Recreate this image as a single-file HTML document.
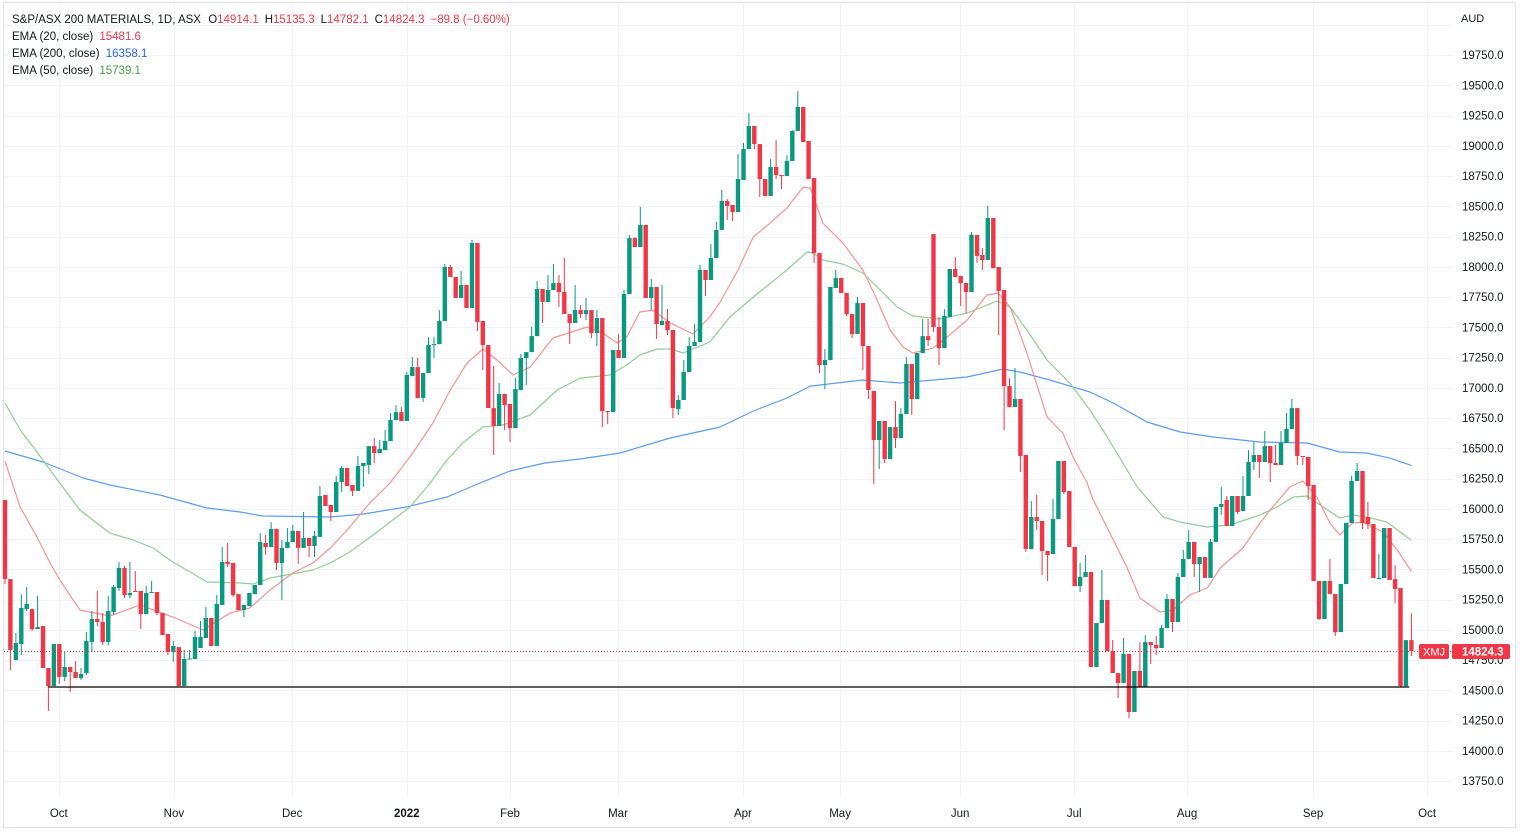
<!DOCTYPE html>
<html><head><meta charset="utf-8">
<style>
html,body{margin:0;padding:0;background:#fff;}
body{width:1520px;height:832px;overflow:hidden;font-family:"Liberation Sans",sans-serif;}
svg text{font-family:"Liberation Sans",sans-serif;}
</style></head>
<body>
<svg id="chart" width="1520" height="832" xmlns="http://www.w3.org/2000/svg">
<rect x="3.5" y="2.5" width="1512" height="825" fill="#fff" stroke="#e0e3eb"/>
<g id="grid"></g>
<g id="ema"></g>
<g id="candles"></g>
<g id="overlay"></g>
<g id="yaxis"></g>
<g id="xaxis"></g>
<g font-size="11.5" fill="#131722">
<text x="12" y="23">S&amp;P/ASX 200 MATERIALS, 1D, ASX <tspan dx="4">O</tspan><tspan fill="#f23645">14914.1</tspan><tspan dx="6">H</tspan><tspan fill="#f23645">15135.3</tspan><tspan dx="6">L</tspan><tspan fill="#f23645">14782.1</tspan><tspan dx="6">C</tspan><tspan fill="#f23645">14824.3</tspan><tspan dx="6" fill="#f23645">−89.8 (−0.60%)</tspan></text>
<text x="12" y="40">EMA (20, close) <tspan dx="3" fill="#f23645">15481.6</tspan></text>
<text x="12" y="57">EMA (200, close) <tspan dx="3" fill="#2962ff">16358.1</tspan></text>
<text x="12" y="74">EMA (50, close) <tspan dx="3" fill="#43a047">15739.1</tspan></text>
</g>
</svg>
<script>
const opens=[16072,15419,14750,14882,15171,15171,15006,15031,14684,14535,14882,14610,14692,14651,14601,14642,14899,15089,15064,14899,15147,15345,15510,15287,15320,15320,15130,15304,15312,15138,14965,14816,14857,14535,14758,14758,14849,14932,15097,14866,15205,15560,15552,15295,15163,15196,15295,15370,15717,15684,15833,15552,15676,15725,15816,15676,15758,15692,15767,16114,16031,15973,16221,16337,16196,16147,16353,16361,16518,16461,16485,16560,16733,16799,16725,17097,17171,16915,17122,17353,17361,17552,17998,17915,17742,17849,17659,18196,17552,17353,16832,16684,16948,16866,16667,16981,17246,17295,17427,17816,17709,17808,17866,17791,17609,17535,17642,17609,17642,17452,17576,16808,16799,17312,17246,17775,18237,18163,18345,17742,17833,17518,17552,17477,16824,16899,17130,17345,17378,17973,17890,18072,18304,18543,18510,18452,18717,18973,19163,19014,18725,18584,18824,18758,18750,18874,19122,19320,19039,18733,18113,17188,17229,17824,17907,17783,17609,17444,17700,17345,16973,16568,16725,16411,16675,16584,16783,17196,16907,17287,17427,18270,17502,17328,17585,17981,17923,17866,17791,18262,18097,18056,18403,17998,17808,17014,16840,16907,16444,15667,15932,15899,15651,15626,15915,16395,16147,15684,15361,15436,15477,14692,15056,15246,14824,14642,14560,14800,14320,14659,14527,14898,14874,14849,15014,15254,15064,15436,15585,15725,15543,15601,15428,15725,16015,16072,15857,16105,15981,16105,16387,16444,16387,16518,16378,16361,16543,16659,16832,16436,16428,16196,15403,15089,15403,15295,14981,15378,15882,16229,16312,15932,15874,15419,15428,15841,15419,15345,14535,14914.1];
const highs=[16072,15419,14973,15295,15353,15171,15279,15031,14684,14882,14882,14816,14692,14742,14684,14981,15155,15320,15138,15279,15370,15560,15527,15560,15485,15320,15361,15403,15312,15138,14965,14907,14857,14832,14832,14990,15072,15188,15097,15287,15684,15717,15552,15295,15205,15304,15370,15799,15783,15890,15833,15742,15841,15866,15816,15973,15758,15816,16188,16114,16031,16271,16353,16337,16196,16436,16378,16518,16584,16568,16651,16791,16857,16841,17130,17254,17246,17122,17419,17419,17642,18023,18015,17915,17965,17849,18221,18196,17552,17353,17180,17039,16948,16866,17080,17279,17295,17502,17882,17816,17932,18023,17932,18072,17609,17849,17683,17742,17642,17642,17576,16808,17312,17444,17808,18262,18246,18494,18345,17899,17833,17849,17651,17477,16940,17229,17419,17527,18015,17973,18188,18370,18634,18560,18510,18932,19023,19271,19163,19014,18725,18890,19047,18758,18923,19130,19452,19320,19039,18733,18113,17320,17833,17973,17907,17783,17609,17750,17700,17345,16973,16725,16725,16675,16890,16832,17254,17196,17287,17568,17568,18270,17585,17651,17981,18080,17923,17866,18287,18262,18155,18502,18403,17998,17808,17080,17163,16907,16444,16064,16114,15899,15651,16081,16395,16395,16147,15684,15552,15618,15477,15056,15494,15246,14915,14642,14932,14800,14659,14898,14956,14898,14948,15039,15295,15254,15469,15659,15824,15725,15601,15601,15750,16015,16180,16105,16105,16105,16271,16485,16551,16444,16642,16518,16527,16642,16791,16907,16832,16436,16428,16196,15403,15403,15585,15295,15378,15882,16271,16378,16312,16056,15874,15626,15841,15841,15535,15345,14915,15135.3];
const lows=[15378,14667,14750,14791,15155,14990,15006,14684,14329,14535,14552,14576,14485,14601,14585,14626,14816,15031,14874,14874,15122,15320,15262,15262,15312,15006,15130,15304,15122,14956,14791,14733,14535,14535,14758,14758,14849,14932,14866,14866,15205,15519,15271,15163,15105,15196,15295,15370,15618,15684,15494,15246,15676,15725,15543,15676,15601,15601,15767,16023,15899,15973,16138,16188,16105,16147,16180,16287,16378,16461,16485,16560,16733,16725,16725,17097,16915,16882,17122,17246,17361,17552,17915,17742,17742,17659,17659,17469,17147,16832,16444,16684,16651,16551,16667,16981,17023,17295,17427,17535,17709,17808,17667,17609,17361,17535,17576,17560,17411,17345,16675,16700,16799,17246,17246,17775,18163,18163,17742,17642,17403,17518,17436,16750,16775,16899,17130,17345,17378,17758,17890,18072,18304,18386,18378,18452,18717,18973,18973,18576,18584,18584,18725,18642,18750,18874,19122,19031,18725,18031,17122,16989,17229,17824,17783,17593,17411,17444,17147,16907,16204,16328,16378,16411,16502,16584,16783,16775,16907,17287,17345,17461,17188,17328,17585,17915,17676,17617,17791,18031,17973,18056,17989,17436,16651,16840,16840,16304,15643,15667,15824,15453,15403,15626,15915,16122,15684,15361,15312,15436,14692,14692,15056,14824,14642,14436,14560,14271,14320,14527,14527,14717,14791,14849,15014,14981,15064,15436,15585,15436,15312,15428,15428,15725,15948,15857,15857,15956,15981,16105,16320,16254,16387,16221,16361,16361,16543,16659,16361,16361,16072,15403,15081,15089,15295,14948,14981,15378,15882,16229,15833,15833,15428,15419,15428,15411,15221,14527,14527,14782.1];
const closes=[15419,14832,14890,15180,15213,15006,15023,14684,14535,14882,14610,14692,14651,14601,14634,14907,15089,15064,14899,15155,15353,15510,15287,15304,15312,15130,15304,15312,15138,14956,14816,14866,14535,14758,14762,14940,14940,15097,14866,15213,15560,15543,15287,15163,15205,15304,15370,15725,15684,15833,15552,15676,15725,15816,15676,15758,15692,15775,16105,16023,15973,16221,16337,16188,16147,16353,16378,16518,16461,16494,16560,16733,16799,16725,17105,17171,16915,17122,17353,17361,17552,17998,17915,17742,17849,17659,18196,17543,17353,16832,16684,16948,16857,16667,16989,17246,17295,17427,17816,17709,17808,17866,17791,17609,17535,17642,17609,17642,17452,17576,16808,16799,17312,17246,17775,18237,18163,18345,17742,17833,17527,17552,17477,16832,16899,17130,17345,17378,17973,17890,18072,18304,18543,18502,18452,18725,18973,19163,19014,18725,18584,18824,18758,18750,18874,19122,19320,19031,18725,18113,17188,17229,17833,17907,17783,17609,17444,17700,17345,16981,16568,16725,16411,16675,16584,16783,17196,16907,17287,17427,17394,17502,17328,17593,17981,17915,17866,17791,18262,18089,18056,18403,17989,17799,17014,16840,16907,16436,15667,15932,15899,15651,15618,15915,16395,16138,15684,15361,15436,15477,14692,15056,15246,14824,14642,14560,14800,14320,14659,14527,14898,14874,14849,15014,15254,15064,15436,15585,15725,15543,15601,15428,15725,16015,16039,15857,16105,15973,16105,16387,16444,16387,16518,16378,16361,16543,16659,16832,16436,16428,16188,15403,15089,15403,15295,14981,15378,15882,16229,16312,15882,15874,15428,15428,15841,15411,15337,14535,14914.1,14824.3];

const ema20Idx=[0,2.8,5.9,8.3,10.1,13.8,19.3,24.9,30.9,36.5,41.4,45.1,48.8,53.0,56.7,59.9,63.0,67.2,70.9,75.1,78.8,82.0,85.1,88.0,90.6,93.6,96.7,100.9,107.2,110.1,112.7,114.5,116.9,119.3,122.5,126.7,129.8,131.7,134.8,137.8,140.9,144.0,147.0,148.3,150.6,154.3,158.0,160.6,163.0,165.4,167.2,170.9,173.5,177.2,180.8,182.9,185.1,188.2,191.9,194.8,196.7,199.3,200.4,204.1,206.6,209.0,212.7,215.1,218.2,221.4,223.8,228.0,231.1,233.0,236.6,239.0,241.6,244.0,245.8,248.2,250.0,253.8,256.4,259];
const ema20Val=[16394,16014,15766,15552,15411,15163,15114,15205,15105,14998,15138,15180,15328,15469,15552,15676,15824,16048,16213,16461,16709,16981,17205,17320,17229,17105,17171,17411,17502,17452,17370,17419,17626,17642,17535,17444,17585,17709,17957,18246,18361,18485,18659,18650,18361,18196,17973,17725,17477,17336,17287,17328,17419,17560,17766,17783,17667,17287,16758,16626,16428,16213,16072,15742,15518,15262,15147,15163,15287,15345,15510,15676,15882,15990,16180,16229,16097,15882,15783,15882,15890,15808,15659,15481.6];
const ema50Idx=[0,2.8,5.9,8.3,10.1,13.8,19.3,23.6,27.3,30.9,34.1,37.2,43.3,45.7,48.8,53.8,56.7,59.9,63.5,67.8,70.9,74.6,78.3,81.4,84.3,88.0,91.7,96.7,101.7,105.9,111.4,114.5,116.9,120.1,122.5,124.9,129.8,133.5,137.8,144.0,147.7,148.8,150.6,154.3,158.0,160.6,164.3,167.2,172.2,177.2,182.7,185.1,188.2,191.9,196.1,199.8,203.0,208.5,213.3,216.4,221.4,225.6,231.1,234.3,237.3,239.8,242.7,245.8,248.2,250.8,254.5,259];
const ema50Val=[16874,16651,16469,16320,16213,15990,15799,15742,15676,15560,15477,15395,15386,15378,15428,15469,15494,15552,15643,15783,15890,16015,16213,16403,16543,16676,16692,16775,16981,17080,17105,17188,17271,17320,17320,17287,17378,17585,17750,17973,18122,18113,18056,18023,17948,17833,17667,17593,17568,17617,17717,17667,17477,17229,17039,16816,16593,16180,15932,15890,15849,15866,15948,16015,16097,16105,16015,15923,15948,15932,15890,15739.1];
const ema200Idx=[0,7.0,14.4,19.3,28.5,37.2,43.3,47.5,59.9,65.9,74.0,81.4,87.5,93.0,99.4,105.9,113.3,122.5,131.7,137.8,144.0,148.3,158.0,164.8,177.2,183.8,186.9,192.4,199.8,204.1,210.3,216.4,222.5,231.1,239.8,245.8,250.8,255.0,259];
const ema200Val=[16477,16386,16254,16196,16114,16006,15973,15940,15932,15956,16015,16097,16213,16312,16378,16411,16461,16585,16676,16808,16915,17014,17064,17039,17089,17155,17130,17064,16965,16874,16717,16634,16593,16552,16543,16469,16461,16419,16358.1];

const priceTicks=[19750,19500,19250,19000,18750,18500,18250,18000,17750,17500,17250,17000,16750,16500,16250,16000,15750,15500,15250,15000,14750,14500,14250,14000,13750];
const gridPrices=[20000,19750,19500,19250,19000,18750,18500,18250,18000,17750,17500,17250,17000,16750,16500,16250,16000,15750,15500,15250,15000,14750,14500,14250,14000,13750];
const monthLabels=["Oct","Nov","Dec","2022","Feb","Mar","Apr","May","Jun","Jul","Aug","Sep","Oct"];
const monthIdx=[9.9,31.1,52.9,74.0,93.0,112.9,135.9,153.8,175.9,196.9,217.7,240.9,261.9];
const lastPrice=14824.3;
const supportLevel=14527;
const supportFrom=8, supportTo=258.6;

const NS="http://www.w3.org/2000/svg";
const plotRight=1453, plotBottom=797;
function yScale(v){return 55+(19750-v)*0.121;}
function xScale(i){return 5+i*5.43;}
function mk(tag,attrs,parent){const e=document.createElementNS(NS,tag);for(const k in attrs)e.setAttribute(k,attrs[k]);parent.appendChild(e);return e;}

const grid=document.getElementById('grid');
gridPrices.forEach(p=>{const y=Math.round(yScale(p))+0.5;
 const l=mk('line',{x1:4,x2:plotRight,y1:y,y2:y,stroke:'#f0f3fa','stroke-width':1},grid);
 
 });
monthIdx.forEach(i=>{const x=Math.round(xScale(i))+0.5;
 const l=mk('line',{x1:x,x2:x,y1:3,y2:plotBottom,stroke:'#f0f3fa','stroke-width':1},grid);
 
 });

const ema=document.getElementById('ema');
function drawLine(idx,val,color,name){
 const d=idx.map((i,k)=>(k?'L':'M')+xScale(i).toFixed(1)+','+yScale(val[k]).toFixed(1)).join(' ');
 const p=mk('path',{d:d,fill:'none',stroke:color,'stroke-width':1.2,'stroke-linejoin':'round'},ema);
 
 
}
drawLine(ema200Idx,ema200Val,'#5b9cf6','ema200-line');
drawLine(ema50Idx,ema50Val,'#8fcf92','ema50-line');
drawLine(ema20Idx,ema20Val,'#f7938f','ema20-line');

const cg=document.getElementById('candles');
for(let i=0;i<closes.length;i++){
 const o=opens[i],c=closes[i],h=highs[i],l=lows[i];
 const up=c>=o; const col=up?'#089981':'#f23645';
 const x=xScale(i);
 const g=mk('g',{},cg);
 
 
 mk('line',{x1:x.toFixed(1),x2:x.toFixed(1),y1:yScale(h).toFixed(1),y2:yScale(l).toFixed(1),stroke:col,'stroke-width':1},g);
 const top=yScale(Math.max(o,c)),bot=yScale(Math.min(o,c));
 mk('rect',{x:(x-2.2).toFixed(1),y:top.toFixed(1),width:4.4,height:Math.max(1,bot-top).toFixed(1),fill:col},g);
}

const ov=document.getElementById('overlay');
const sl=mk('line',{x1:xScale(supportFrom),x2:xScale(supportTo),y1:yScale(supportLevel),y2:yScale(supportLevel),stroke:'#000','stroke-width':1.3},ov);


const ly=Math.round(yScale(lastPrice))+0.5;
const pl=mk('line',{x1:4,x2:plotRight,y1:ly,y2:ly,stroke:'#f23645','stroke-width':1,'stroke-dasharray':'1,2'},ov);



const ya=document.getElementById('yaxis');
const at=mk('text',{x:1461,y:22,'font-size':11,fill:'#131722'},ya);
at.textContent='AUD';


priceTicks.forEach(p=>{const t=mk('text',{x:1462,y:(yScale(p)+4).toFixed(1),'font-size':11.5,fill:'#131722'},ya);
 t.textContent=p.toFixed(1);
 
 });
const sym=mk('rect',{x:1419,y:ly-7.5,width:30,height:15,rx:2,fill:'#f23645'},ya);


const st=mk('text',{x:1434,y:ly+4,'font-size':11,fill:'#fff','text-anchor':'middle'},ya);
st.textContent='XMJ';


const pb=mk('rect',{x:1452,y:ly-7.5,width:58,height:15,rx:2,fill:'#f23645'},ya);


const pt=mk('text',{x:1462,y:ly+4,'font-size':11.5,fill:'#fff','font-weight':'bold'},ya);
pt.textContent=lastPrice.toFixed(1);



const xa=document.getElementById('xaxis');
monthLabels.forEach((m,k)=>{const t=mk('text',{x:xScale(monthIdx[k]).toFixed(1),y:817,'font-size':11.5,fill:'#131722','text-anchor':'middle','font-weight':m==='2022'?'bold':'normal'},xa);
 t.textContent=m;
 
 });
</script>
</body></html>
